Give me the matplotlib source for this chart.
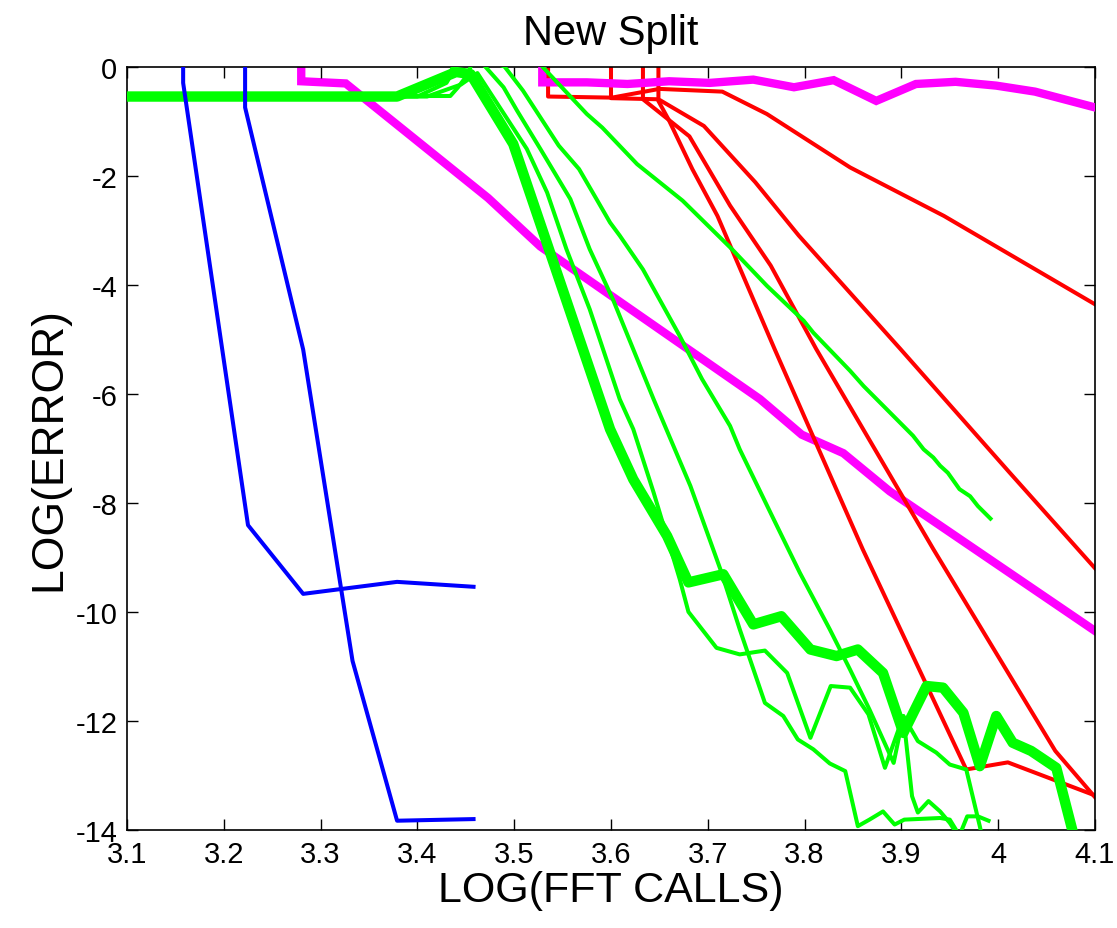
import matplotlib
matplotlib.use("Agg")
import matplotlib.pyplot as plt

plt.rcParams['font.family'] = ['Liberation Sans', 'DejaVu Sans']
plt.rcParams['axes.unicode_minus'] = False

# ---------------- data ----------------
blue1_x = [3.158, 3.158, 3.225, 3.282, 3.379, 3.458]
blue1_y = [1.0, -0.30, -8.41, -9.67, -9.45, -9.54]
blue2_x = [3.222, 3.222, 3.282, 3.333, 3.379, 3.458]
blue2_y = [1.0, -0.75, -5.19, -10.90, -13.83, -13.80]

mag1_x = [3.280, 3.280, 3.326, 3.473, 3.527, 3.754, 3.797, 3.840, 3.888, 4.100]
mag1_y = [0.5, -0.27, -0.31, -2.41, -3.30, -6.10, -6.75, -7.09, -7.79, -10.35]
mag2_x = [3.529, 3.529, 3.575, 3.617, 3.660, 3.702, 3.747, 3.789, 3.830, 3.874,
          3.915, 3.956, 3.998, 4.038, 4.100]
mag2_y = [0.5, -0.29, -0.29, -0.32, -0.27, -0.30, -0.24, -0.38, -0.25, -0.63,
          -0.32, -0.28, -0.35, -0.46, -0.75]

red1_x = [3.535, 3.535, 3.601, 3.650, 3.715, 3.761, 3.847, 3.944, 4.100]
red1_y = [0.5, -0.55, -0.57, -0.41, -0.46, -0.87, -1.85, -2.74, -4.36]
red2_x = [3.600, 3.600, 3.648, 3.660, 3.684, 3.710, 3.769, 3.860, 3.967, 4.010, 4.102]
red2_y = [0.5, -0.58, -0.60, -0.99, -1.88, -2.74, -5.18, -8.85, -12.89, -12.76, -13.38]
red3_x = [3.633, 3.633, 3.681, 3.723, 3.765, 3.812, 3.933, 4.059, 4.102]
red3_y = [0.5, -0.60, -1.28, -2.55, -3.65, -5.18, -8.85, -12.55, -13.44]
red4_x = [3.649, 3.649, 3.696, 3.749, 3.794, 3.899, 4.012, 4.102]
red4_y = [0.5, -0.60, -1.09, -2.12, -3.10, -5.18, -7.45, -9.24]

gthick_x = [3.100, 3.379, 3.440, 3.455, 3.499, 3.599, 3.623, 3.658, 3.680, 3.716,
            3.747, 3.776, 3.806, 3.833, 3.855, 3.881, 3.902, 3.926, 3.943, 3.964,
            3.981, 3.998, 4.015, 4.034, 4.060, 4.078]
gthick_y = [-0.55, -0.55, -0.10, -0.14, -1.42, -6.65, -7.57, -8.61, -9.46, -9.31,
            -10.23, -10.08, -10.69, -10.81, -10.69, -11.12, -12.22, -11.36, -11.39, -11.85,
            -12.83, -11.91, -12.40, -12.55, -12.86, -14.10]

gA_x = [3.100, 3.410, 3.445, 3.462, 3.513, 3.534, 3.554, 3.578, 3.609, 3.623,
        3.644, 3.671, 3.680, 3.709, 3.733, 3.759, 3.782, 3.806, 3.827, 3.847,
        3.866, 3.883, 3.902, 3.911, 3.917, 3.928, 3.940, 3.950, 3.961]
gA_y = [-0.55, -0.55, -0.33, -0.12, -1.51, -2.31, -3.35, -4.45, -6.10, -6.65,
        -7.81, -9.40, -10.00, -10.66, -10.78, -10.71, -11.12, -12.31, -11.36, -11.39,
        -11.88, -12.86, -11.91, -13.38, -13.68, -13.47, -13.66, -13.87, -14.17]

gB_x = [3.100, 3.434, 3.442, 3.451, 3.460, 3.470, 3.489, 3.503, 3.527, 3.558,
        3.578, 3.602, 3.644, 3.682, 3.713, 3.733, 3.759, 3.778, 3.793, 3.809,
        3.826, 3.842, 3.855, 3.867, 3.881, 3.893, 3.903, 3.940, 3.950, 3.960,
        3.968, 3.979, 3.990]
gB_y = [-0.55, -0.54, -0.38, -0.17, 0.20, 0.00, -0.38, -0.81, -1.51, -2.43,
        -3.35, -4.27, -6.10, -7.69, -9.22, -10.32, -11.67, -11.91, -12.34, -12.52,
        -12.78, -12.92, -13.93, -13.81, -13.66, -13.90, -13.81, -13.78, -13.81, -14.10,
        -13.75, -13.75, -13.83]

gC_x = [3.100, 3.379, 3.434, 3.445, 3.490, 3.509, 3.546, 3.567, 3.585, 3.599,
        3.609, 3.633, 3.671, 3.694, 3.723, 3.733, 3.768, 3.795, 3.826, 3.847,
        3.867, 3.892, 3.902, 3.917, 3.936, 3.950, 3.967, 3.981, 3.984]
gC_y = [-0.55, -0.55, -0.11, 0.30, 0.00, -0.44, -1.45, -1.88, -2.43, -2.86,
        -3.10, -3.72, -4.94, -5.73, -6.59, -7.02, -8.30, -9.28, -10.32, -11.06,
        -11.79, -12.77, -11.91, -12.37, -12.58, -12.80, -12.89, -13.93, -14.17]

gL_x = [3.100, 3.400, 3.430, 3.450, 3.520, 3.529, 3.575, 3.591, 3.627, 3.674,
        3.725, 3.761, 3.799, 3.809, 3.847, 3.861, 3.912, 3.923, 3.933, 3.940,
        3.948, 3.960, 3.971, 3.979, 3.992]
gL_y = [-0.55, -0.55, -0.30, 0.30, 0.20, 0.00, -0.87, -1.12, -1.79, -2.46,
        -3.35, -4.02, -4.66, -4.88, -5.58, -5.86, -6.77, -7.02, -7.17, -7.32,
        -7.45, -7.75, -7.88, -8.06, -8.29]

xtick_vals = [3.1, 3.2, 3.3, 3.4, 3.5, 3.6, 3.7, 3.8, 3.9, 4.0, 4.1]
xtick_labels = ['3.1', '3.2', '3.3', '3.4', '3.5', '3.6', '3.7', '3.8', '3.9', '4', '4.1']
ytick_vals = [-14, -12, -10, -8, -6, -4, -2, 0]
ytick_labels = ['-14', '-12', '-10', '-8', '-6', '-4', '-2', '0']

# ---------------- figure ----------------
fig = plt.figure(figsize=(11.17, 9.29), dpi=100)
ax = fig.add_axes([0.1137, 0.1055, 0.9803 - 0.1137, 0.9273 - 0.1055])

BLUE, RED, GREEN, MAG = '#0000ff', '#ff0000', '#00ff00', '#ff00ff'
thin = 2.9

ax.plot(mag1_x, mag1_y, color=MAG, lw=6.0, zorder=1, solid_joinstyle='miter')
for xs, ys in [(red1_x, red1_y), (red2_x, red2_y), (red3_x, red3_y), (red4_x, red4_y)]:
    ax.plot(xs, ys, color=RED, lw=thin, zorder=2)
ax.plot(mag2_x, mag2_y, color=MAG, lw=6.0, zorder=3, solid_joinstyle='miter')
for xs, ys in [(gA_x, gA_y), (gB_x, gB_y), (gC_x, gC_y), (gL_x, gL_y)]:
    ax.plot(xs, ys, color=GREEN, lw=thin, zorder=4)
ax.plot(gthick_x, gthick_y, color=GREEN, lw=7.5, zorder=4.5)
ax.plot(blue1_x, blue1_y, color=BLUE, lw=thin, zorder=5)
ax.plot(blue2_x, blue2_y, color=BLUE, lw=thin, zorder=5)

ax.set_xlim(3.1, 4.1)
ax.set_ylim(-14, 0)
ax.set_xticks(xtick_vals)
ax.set_xticklabels(xtick_labels)
ax.set_yticks(ytick_vals)
ax.set_yticklabels(ytick_labels)
ax.tick_params(direction='in', length=8, width=1.0, top=True, right=True,
               labelsize=21, pad=7)
for s in ax.spines.values():
    s.set_linewidth(1.2)

ax.set_title('New Split', fontsize=30, pad=16)
ax.set_xlabel('LOG(FFT CALLS)', fontsize=31, labelpad=2)
ax.set_ylabel('LOG(ERROR)', fontsize=32, labelpad=4)

fig.savefig('out.png', dpi=100, facecolor='white')
